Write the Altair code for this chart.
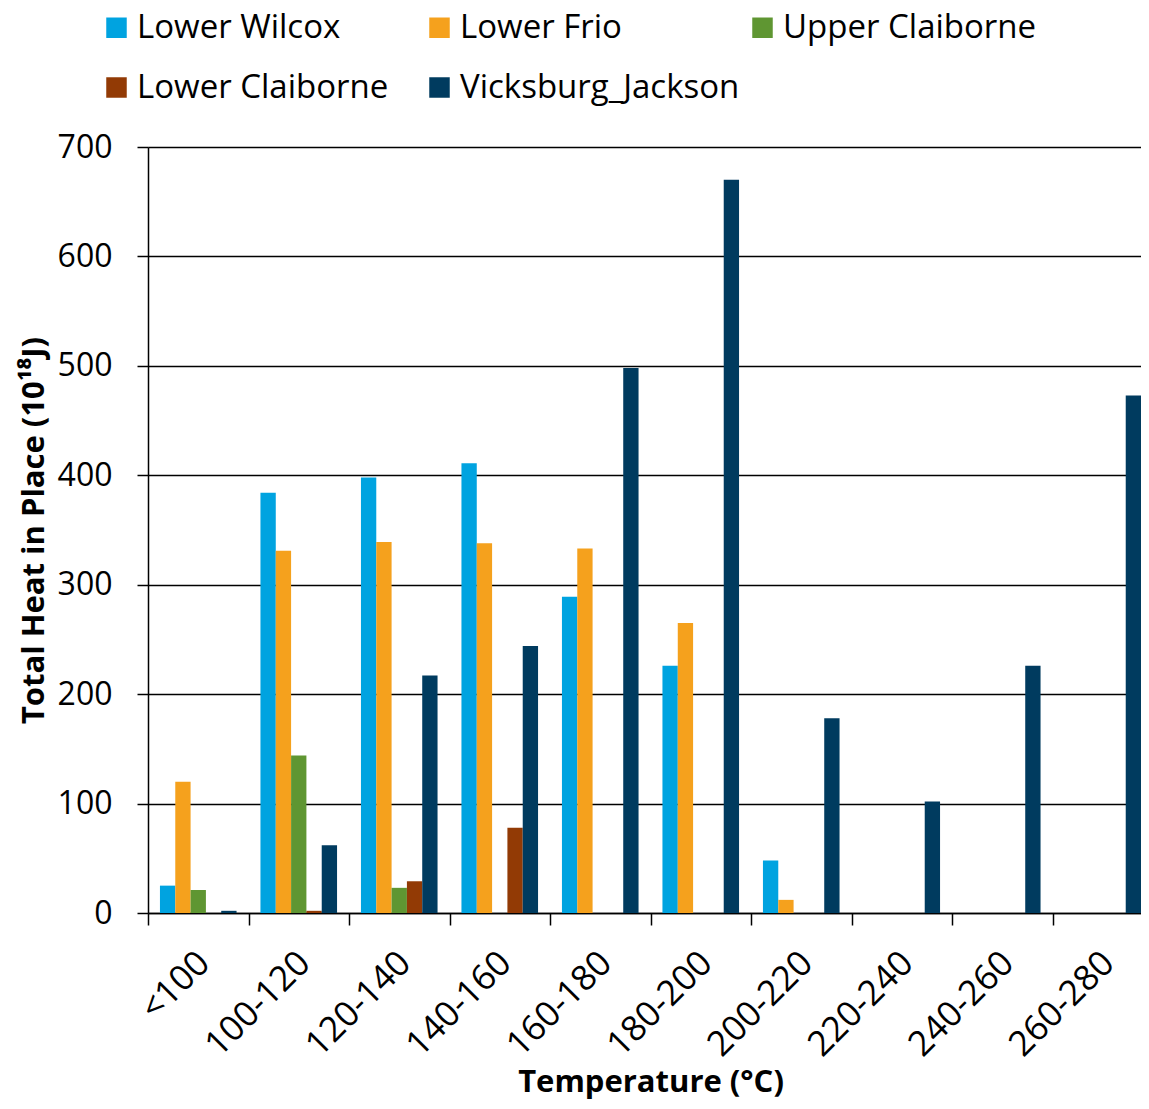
import altair as alt
import pandas as pd

categories = ["<100", "100-120", "120-140", "140-160", "160-180",
              "180-200", "200-220", "220-240", "240-260", "260-280"]
series = ["Lower Wilcox", "Lower Frio", "Upper Claiborne",
          "Lower Claiborne", "Vicksburg_Jackson"]
colors = ["#00A3E0", "#F5A11D", "#5F9632", "#923A05", "#003B5F"]

lower_wilcox = [25, 384, 398, 411, 289, 226, 48, 0, 0, 0]
lower_frio = [120, 331, 339, 338, 333, 265, 12, 0, 0, 0]
upper_claiborne = [21, 144, 23, 0, 0, 0, 0, 0, 0, 0]
lower_claiborne = [0, 2, 29, 78, 0, 0, 0, 0, 0, 0]
vicksburg_jackson = [2, 62, 217, 244, 498, 670, 178, 102, 226, 473]

values = [lower_wilcox, lower_frio, upper_claiborne,
          lower_claiborne, vicksburg_jackson]

rows = []
for s, vals in zip(series, values):
    for c, v in zip(categories, vals):
        rows.append({"Temperature": c, "Series": s, "Value": v})
df = pd.DataFrame(rows)

FONT = "Open Sans"

chart = alt.Chart(df).mark_bar(clip=True).encode(
    x=alt.X(
        "Temperature:N",
        sort=categories,
        scale=alt.Scale(range=[0, 1005], paddingInner=0, paddingOuter=0),
        axis=alt.Axis(
            title="Temperature (°C)",
            labelAngle=-45,
            labelFont=FONT,
            labelFontSize=35,
            labelColor="black",
            labelPadding=20,
            labelOffset=-7,
            tickBand="extent",
            tickSize=12,
            tickColor="black",
            tickWidth=1.5,
            domainColor="black",
            domainWidth=1.5,
            grid=False,
            titleFont=FONT,
            titleFontSize=31,
            titleFontWeight="bold",
            titleColor="black",
            titleBaseline="alphabetic",
            titleY=178,
        ),
    ),
    xOffset=alt.XOffset("Series:N", sort=series,
                        scale=alt.Scale(paddingInner=0, paddingOuter=0.78)),
    y=alt.Y(
        "Value:Q",
        scale=alt.Scale(domain=[0, 700], nice=False),
        axis=alt.Axis(
            title="Total Heat in Place (10¹⁸J)",
            values=[0, 100, 200, 300, 400, 500, 600, 700],
            labelFont=FONT,
            labelFontSize=32,
            labelColor="black",
            labelPadding=25,
            tickSize=11,
            tickColor="black",
            tickWidth=1.5,
            domainColor="black",
            domainWidth=1.5,
            gridColor="black",
            gridWidth=1.5,
            titleFont=FONT,
            titleFontSize=31,
            titleFontWeight="bold",
            titleColor="black",
            titleBaseline="alphabetic",
            titleX=-105,
            titleY=383,
        ),
    ),
    color=alt.Color(
        "Series:N",
        sort=series,
        scale=alt.Scale(domain=series, range=colors),
        legend=alt.Legend(
            title=None,
            orient="none",
            legendX=-48,
            legendY=-136,
            direction="horizontal",
            columns=3,
            gridAlign="all",
            columnPadding=6,
            rowPadding=26,
            symbolType="square",
            symbolSize=420,
            symbolStrokeWidth=0,
            symbolOpacity=1,
            labelFont=FONT,
            labelFontSize=33,
            labelColor="black",
            labelOffset=4,
            labelLimit=400,
            padding=0,
        ),
    ),
).properties(
    width=993,
    height=766,
    autosize=alt.AutoSizeParams(type="none"),
    padding={"left": 140, "top": 139, "right": 0, "bottom": 187},
).configure_view(stroke=None).configure(background="white")

chart.save("out.html", embed_options={"renderer": "svg", "actions": False})
